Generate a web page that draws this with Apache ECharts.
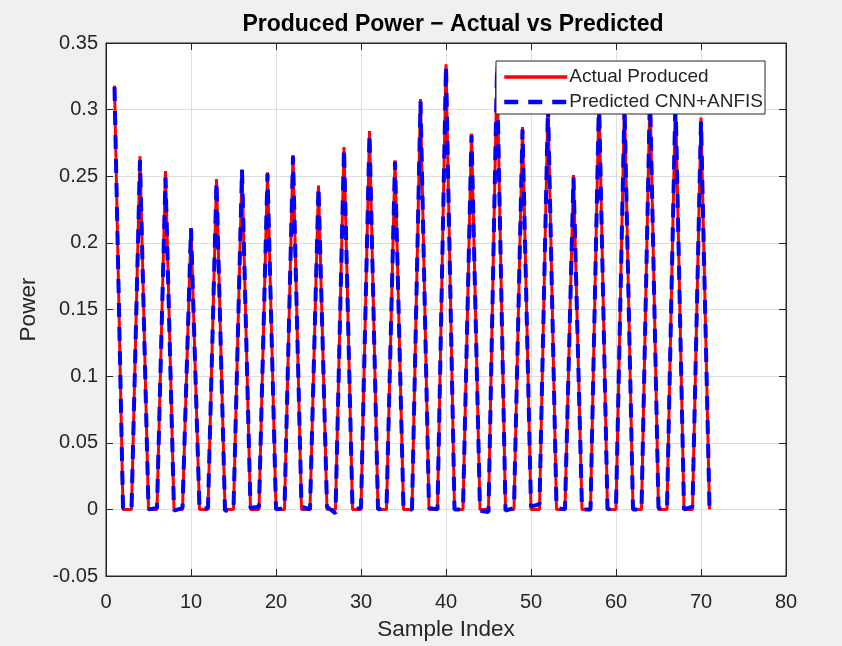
<!DOCTYPE html>
<html>
<head>
<meta charset="utf-8">
<script src="https://cdn.jsdelivr.net/npm/echarts@6/dist/echarts.min.js"></script>
<style>
html,body{margin:0;padding:0;background:#f0f0f0;}
#chart{width:842px;height:646px;}
</style>
</head>
<body>
<div id="chart"></div>
<script>
const sampleIndex = [1,2,3,4,5,6,7,8,9,10,11,12,13,14,15,16,17,18,19,20,21,22,23,24,25,26,27,28,29,30,31,32,33,34,35,36,37,38,39,40,41,42,43,44,45,46,47,48,49,50,51,52,53,54,55,56,57,58,59,60,61,62,63,64,65,66,67,68,69,70,71];
const actualProduced = [0.318,0,0,0.265,0,0,0.254,0,0,0.211,0,0,0.248,0,0,0.255,0,0,0.253,0,0,0.266,0,0,0.243,0,0,0.272,0,0,0.284,0,0,0.262,0,0,0.308,0,0,0.334,0,0,0.282,0,0,0.332,0,0,0.287,0,0,0.305,0,0,0.251,0,0,0.310,0,0,0.305,0,0,0.315,0,0,0.310,0,0,0.294,0];
const predictedCNNANFIS = [0.317,0.001,0.000,0.262,0.000,0.001,0.249,-0.001,0.001,0.211,0.000,0.001,0.246,-0.001,0.000,0.255,0.001,0.002,0.252,0.000,0.001,0.265,0.002,0.000,0.242,0.002,-0.003,0.271,0.000,0.001,0.282,0.000,0.001,0.261,0.000,0.000,0.306,0.001,0.000,0.333,0.000,0.000,0.281,-0.001,-0.002,0.331,-0.001,0.001,0.285,0.002,0.004,0.303,0.001,0.000,0.249,0.000,0.000,0.308,0.000,0.001,0.303,0.000,0.000,0.313,0.001,0.000,0.309,0.000,0.002,0.291,0.001];
const xTicks = {min:0, max:80, interval:10};
const yTicks = {min:-0.05, max:0.35, interval:0.05};

const axisColor = '#262626';
const font = 'Liberation Sans, Arial, Helvetica, sans-serif';
const pairs = (ys) => sampleIndex.map((x,i) => [x, ys[i]]);
const fmtY = v => String(parseFloat(v.toFixed(2)));

const chart = echarts.init(document.getElementById('chart'), null, {renderer:'canvas'});
const baseX = {
  type:'value', min:xTicks.min, max:xTicks.max, interval:xTicks.interval,
  axisLine:{show:true, onZero:false, lineStyle:{color:axisColor, width:1}},
  axisTick:{show:true, inside:true, length:7, lineStyle:{color:axisColor}},
  splitLine:{show:false}
};
const baseY = {
  type:'value', min:yTicks.min, max:yTicks.max, interval:yTicks.interval,
  axisLine:{show:true, onZero:false, lineStyle:{color:axisColor, width:1}},
  axisTick:{show:true, inside:true, length:7, lineStyle:{color:axisColor}},
  splitLine:{show:false}
};
chart.setOption({
  backgroundColor:'#f0f0f0',
  animation:false,
  title:{
    text:'Produced Power \u2212 Actual vs Predicted',
    left:448, textAlign:'center', top:8,
    textStyle:{fontFamily:font, fontSize:23, fontWeight:'bold', color:'#000'}
  },
  grid:{left:106, right:56, top:43, bottom:68, show:true, backgroundColor:'#ffffff', borderColor:axisColor, borderWidth:1},
  legend:{
    orient:'vertical', left:496, top:61,
    backgroundColor:'#ffffff', borderColor:axisColor, borderWidth:1,
    padding:[6,2,2,6], itemGap:5,
    itemWidth:63, itemHeight:20,
    itemStyle:{opacity:0},
    lineStyle:{width:3.5},
    textStyle:{fontFamily:font, fontSize:19, lineHeight:20, color:axisColor, padding:[0,0,0,-3]},
    data:[
      {name:'Actual Produced', lineStyle:{width:3.5}},
      {name:'Predicted CNN+ANFIS', lineStyle:{width:4.5}}
    ]
  },
  xAxis:[
    Object.assign({}, baseX, {
      position:'bottom',
      name:'Sample Index', nameLocation:'middle', nameGap:42,
      nameTextStyle:{fontFamily:font, fontSize:22.5, color:axisColor},
      axisLabel:{fontFamily:font, fontSize:20, color:axisColor, margin:16},
      splitLine:{show:true, lineStyle:{color:'#dfdfdf', width:1}}
    }),
    Object.assign({}, baseX, {position:'top', axisLabel:{show:false}})
  ],
  yAxis:[
    Object.assign({}, baseY, {
      position:'left',
      name:'Power', nameLocation:'middle', nameGap:66, nameRotate:90,
      nameTextStyle:{fontFamily:font, fontSize:22.5, color:axisColor},
      axisLabel:{fontFamily:font, fontSize:20, color:axisColor, margin:8, formatter:fmtY},
      splitLine:{show:true, lineStyle:{color:'#dfdfdf', width:1}}
    }),
    Object.assign({}, baseY, {position:'right', axisLabel:{show:false}})
  ],
  series:[
    {
      name:'Actual Produced', type:'line', xAxisIndex:0, yAxisIndex:0,
      data:pairs(actualProduced), symbol:'none', showSymbol:false,
      lineStyle:{color:'#ff0000', width:3}, itemStyle:{color:'#ff0000'}, z:2
    },
    {
      name:'Predicted CNN+ANFIS', type:'line', xAxisIndex:0, yAxisIndex:0,
      data:pairs(predictedCNNANFIS), symbol:'none', showSymbol:false,
      lineStyle:{color:'#0000ff', width:4, type:[14,10]}, itemStyle:{color:'#0000ff'}, z:3
    }
  ]
});
</script>
</body>
</html>
